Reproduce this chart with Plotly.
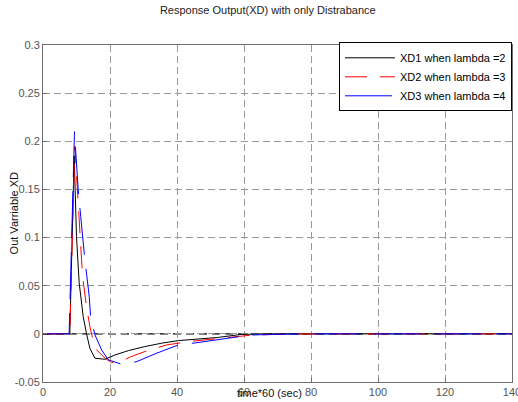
import plotly.graph_objects as go

# ---- data ----
t_xd1 = [0, 8, 9.3, 9.6, 10.0, 10.8, 12.0, 13.0, 14.0, 15.5, 18.5, 21.5, 25.5, 30.4, 35.4, 40.4, 46, 52, 59, 65, 75, 90, 110, 140]
xd1 = [0, 0, 0.185, 0.157, 0.101, 0.053, 0.018, 0.0, -0.015, -0.0253, -0.0264, -0.0219, -0.0174, -0.0132,
       -0.0097, -0.0070, -0.0052, -0.0038, -0.0007, 0, 0, 0, 0, 0]

t_xd2 = [0, 8, 9.5, 10.5, 11.0, 11.8, 13.0, 14.0, 15.5, 18.5, 20.5, 24, 26, 30.4, 36.9, 41.4, 44, 49.3, 57.8, 62, 70, 80, 100, 140]
xd2 = [0, 0, 0.195, 0.133, 0.098, 0.060, 0.028, 0.0076, -0.0149, -0.0253, -0.0300, -0.0275, -0.0240, -0.0184,
       -0.0115, -0.0088, -0.0078, -0.0059, -0.0024, -0.0014, -0.0005, 0, 0, 0]

t_xd3 = [0, 7.8, 9.4, 10.5, 11.25, 12.5, 13.8, 14.2, 15.5, 17.5, 19.5, 23, 25, 28, 34, 40.4, 45.4, 52, 58.3, 62, 70, 80, 100, 140]
xd3 = [0, 0, 0.21, 0.15, 0.122, 0.077, 0.039, 0.018, -0.001, -0.0167, -0.027, -0.031, -0.031, -0.0288,
       -0.020, -0.0115, -0.0094, -0.0060, -0.0034, -0.0012, -0.0005, 0, 0, 0]

series_names = ["XD1 when lambda =2", "XD2 when lambda =3", "XD3 when lambda =4"]

x_ticks = [0, 20, 40, 60, 80, 100, 120, 140]
x_ticktext = ["0", "20", "40", "60", "80", "100", "120", "140"]
y_ticks = [-0.05, 0, 0.05, 0.1, 0.15, 0.2, 0.25, 0.3]
y_ticktext = ["-0.05", "0", "0.05", "0.1", "0.15", "0.2", "0.25", "0.3"]

title_text = "Response Output(XD) with only Distrabance"
x_label = "time*60 (sec)"
y_label = "Out Varriable XD"

FONT = "Liberation Sans"

fig = go.Figure()

fig.add_trace(go.Scatter(x=t_xd1, y=xd1, mode="lines", name=series_names[0],
                         line=dict(color="#000000", width=1)))
fig.add_trace(go.Scatter(x=t_xd2, y=xd2, mode="lines", name=series_names[1],
                         line=dict(color="#ff0000", width=1, dash="22px,13px")))
fig.add_trace(go.Scatter(x=t_xd3, y=xd3, mode="lines", name=series_names[2],
                         line=dict(color="#0000ff", width=1, dash="47px,14px")))

# dashed reference line at zero
fig.add_hline(y=0, line=dict(color="#000000", width=1.3, dash="8px,5px"), layer="below")

axis_common = dict(
    showline=True, linecolor="#6e6e6e", linewidth=1, mirror=True,
    ticks="inside", ticklen=4, tickcolor="#6e6e6e",
    showgrid=True, gridcolor="#9a9a9a", gridwidth=1, griddash="7px,4px",
    zeroline=False, automargin=False, ticklabeloverflow="allow",
    tickfont=dict(family=FONT, size=11, color="#555555"),
)

fig.update_xaxes(range=[0, 140], tickvals=x_ticks, ticktext=x_ticktext, **axis_common)
fig.update_yaxes(range=[-0.05, 0.3], tickvals=y_ticks, ticktext=y_ticktext, **axis_common)

fig.update_layout(
    width=518, height=402,
    margin=dict(l=43, r=6, t=45, b=20, autoexpand=False),
    paper_bgcolor="white", plot_bgcolor="white",
    font=dict(family=FONT, size=11, color="#000000"),
    title=dict(text=title_text, x=0.517, xanchor="center", y=0.975, yanchor="middle",
               font=dict(family=FONT, size=11, color="#222222")),
    legend=dict(x=1, y=1.008, xanchor="right", yanchor="top",
                bgcolor="white", bordercolor="#000000", borderwidth=1,
                font=dict(family=FONT, size=11, color="#000000"),
                itemwidth=50, tracegroupgap=0),
    showlegend=True,
    annotations=[
        dict(text=x_label, xref="paper", yref="paper", x=0.482, y=-0.033,
             xanchor="center", yanchor="middle", showarrow=False,
             font=dict(family=FONT, size=11, color="#111111")),
        dict(text=y_label, xref="paper", yref="paper", x=-0.062, y=0.5,
             xanchor="center", yanchor="middle", showarrow=False, textangle=-90,
             font=dict(family=FONT, size=11, color="#111111")),
    ],
)

fig.write_html("out.html", config={"displayModeBar": False},
               post_script="document.body.style.margin='0';")
